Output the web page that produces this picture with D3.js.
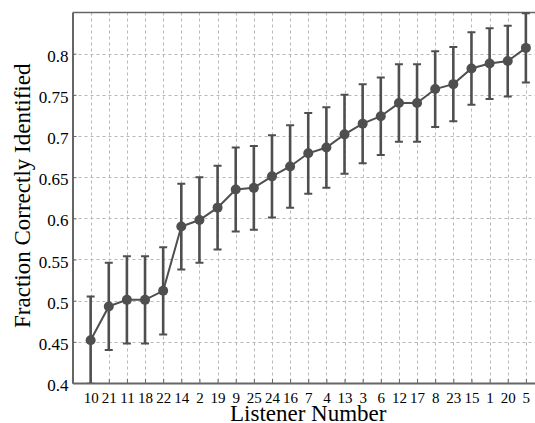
<!DOCTYPE html>
<html>
<head>
<meta charset="utf-8">
<script src="https://cdn.jsdelivr.net/npm/d3@7"></script>
<style>
  html, body { margin: 0; padding: 0; background: #fff; overflow: hidden; }
  svg { display: block; }
</style>
</head>
<body>
<svg id="chart" width="535" height="423"></svg>
<script>
// Listener IDs, ordered by score
const listeners = ["10","21","11","18","22","14","2","19","9","25","24","16","7","4","13","3","6","12","17","8","23","15","1","20","5"];
// Mean fraction correctly identified per listener
const fraction = [0.452,0.493,0.501,0.501,0.512,0.590,0.598,0.613,0.635,0.637,0.651,0.663,0.679,0.686,0.702,0.715,0.724,0.740,0.740,0.757,0.763,0.782,0.788,0.791,0.807];
// Half-width of the error bar for each listener
const errHalf = [0.053,0.053,0.053,0.053,0.053,0.052,0.052,0.051,0.051,0.051,0.050,0.050,0.049,0.049,0.048,0.048,0.047,0.047,0.047,0.046,0.045,0.044,0.043,0.043,0.042];
const yTicks = [0.4,0.45,0.5,0.55,0.6,0.65,0.7,0.75,0.8];
const yTickLabels = ["0.4","0.45","0.5","0.55","0.6","0.65","0.7","0.75","0.8"];

const mLeft = 72.5, mTop = 12.5, mBottom = 383, mRight = 544;
const serif = "'Liberation Serif', 'Times New Roman', 'DejaVu Serif', serif";
const svg = d3.select("#chart");

const x = d3.scaleLinear().domain([0, listeners.length + 1]).range([mLeft, mRight]);
const y = d3.scaleLinear().domain([0.4, 0.85]).range([mBottom, mTop]);

const data = listeners.map((id, i) => ({ id, pos: i + 1, v: fraction[i], e: errHalf[i] }));

svg.append("defs").append("clipPath").attr("id", "plotclip")
  .append("rect").attr("x", mLeft).attr("y", mTop - 6).attr("width", mRight - mLeft).attr("height", mBottom - mTop + 6);

// Dashed grid
const grid = svg.append("g");
grid.selectAll("line.h").data(yTicks.slice(1)).join("line")
  .attr("x1", mLeft).attr("x2", mRight)
  .attr("y1", d => Math.round(y(d)) + 0.5).attr("y2", d => Math.round(y(d)) + 0.5)
  .attr("stroke", "#b8b8b8").attr("stroke-width", 1).attr("stroke-dasharray", "3,3");
grid.selectAll("line.v").data(data).join("line")
  .attr("x1", d => Math.round(x(d.pos)) + 0.5).attr("x2", d => Math.round(x(d.pos)) + 0.5)
  .attr("y1", mTop).attr("y2", mBottom)
  .attr("stroke", "#b8b8b8").attr("stroke-width", 1).attr("stroke-dasharray", "3,3");

// Axes
const xAxis = d3.axisBottom(x).tickValues(data.map(d => d.pos))
  .tickFormat((d, i) => listeners[i]).tickSizeInner(-4).tickSizeOuter(0).tickPadding(9);
const yAxis = d3.axisLeft(y).tickValues(yTicks)
  .tickFormat((d, i) => yTickLabels[i]).tickSizeInner(-4).tickSizeOuter(0).tickPadding(4);

const gx = svg.append("g").attr("transform", `translate(0,${mBottom})`).call(xAxis)
  .attr("font-family", serif).attr("font-size", 15);
const gy = svg.append("g").attr("transform", `translate(${mLeft},0)`).call(yAxis)
  .attr("font-family", serif).attr("font-size", 17);
gy.selectAll(".tick text").attr("dy", "0.45em");
[gx, gy].forEach(g => {
  g.select(".domain").attr("stroke", "#666").attr("stroke-width", 2);
  g.selectAll(".tick line").attr("stroke", "#666").attr("stroke-width", 1);
  g.selectAll(".tick text").attr("fill", "#000");
});
svg.append("line").attr("x1", mLeft).attr("x2", mRight).attr("y1", mTop).attr("y2", mTop)
  .attr("stroke", "#666").attr("stroke-width", 1.5);

// Error bars, line and markers
const plot = svg.append("g").attr("clip-path", "url(#plotclip)");
const color = "#4f4f4f";
const capW = 4;
const eb = plot.selectAll("g.eb").data(data).join("g");
eb.append("line")
  .attr("x1", d => x(d.pos)).attr("x2", d => x(d.pos))
  .attr("y1", d => y(d.v - d.e)).attr("y2", d => y(d.v + d.e))
  .attr("stroke", color).attr("stroke-width", 2.6);
eb.append("line")
  .attr("x1", d => x(d.pos) - capW).attr("x2", d => x(d.pos) + capW)
  .attr("y1", d => y(d.v + d.e)).attr("y2", d => y(d.v + d.e))
  .attr("stroke", color).attr("stroke-width", 2);
eb.append("line")
  .attr("x1", d => x(d.pos) - capW).attr("x2", d => x(d.pos) + capW)
  .attr("y1", d => y(d.v - d.e)).attr("y2", d => y(d.v - d.e))
  .attr("stroke", color).attr("stroke-width", 2);

plot.append("path").datum(data)
  .attr("d", d3.line().x(d => x(d.pos)).y(d => y(d.v)))
  .attr("fill", "none").attr("stroke", color).attr("stroke-width", 2);

plot.selectAll("circle").data(data).join("circle")
  .attr("cx", d => x(d.pos)).attr("cy", d => y(d.v)).attr("r", 5)
  .attr("fill", color);

// Axis titles
svg.append("text").attr("x", (mLeft + mRight) / 2).attr("y", 421).attr("text-anchor", "middle")
  .style("font-family", serif).style("font-size", "23px")
  .text("Listener Number");
svg.append("text").attr("transform", `translate(30,${(mTop + mBottom) / 2 - 2}) rotate(-90)`)
  .attr("text-anchor", "middle")
  .style("font-family", serif).style("font-size", "23px")
  .text("Fraction Correctly Identified");
</script>
</body>
</html>
